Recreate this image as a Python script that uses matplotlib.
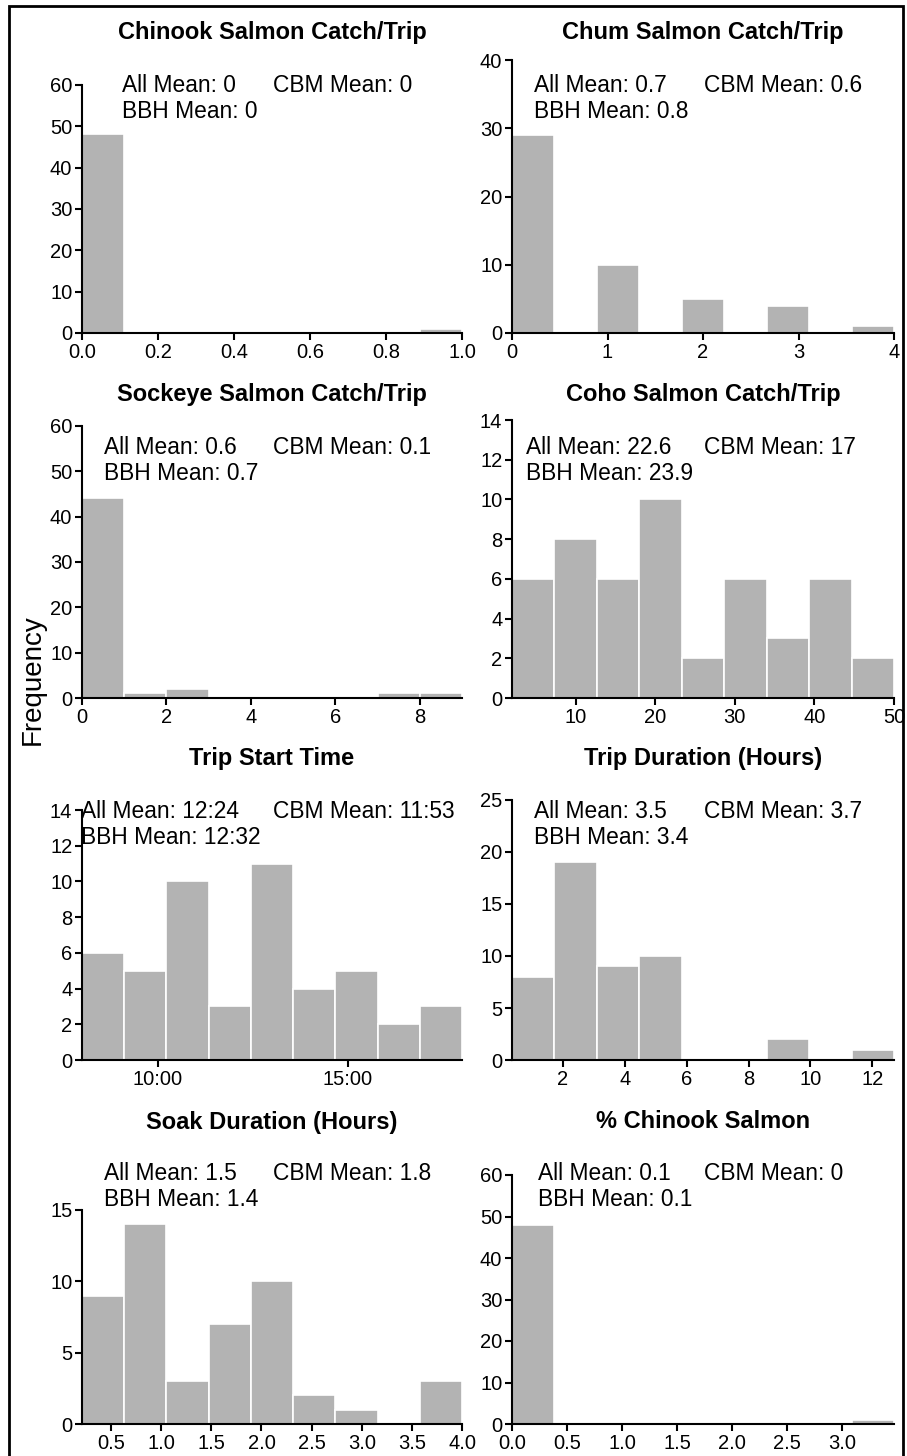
#!/usr/bin/env python3

import numpy as np
from matplotlib import pyplot as plt
from matplotlib.patches import Rectangle
from matplotlib.ticker import FixedLocator, FuncFormatter

plt.rcParams['font.family'] = ['Liberation Sans', 'DejaVu Sans']

W, H = 907, 1456

# panel titles
titles = ['Chinook Salmon Catch/Trip', 'Chum Salmon Catch/Trip',
          'Sockeye Salmon Catch/Trip', 'Coho Salmon Catch/Trip',
          'Trip Start Time', 'Trip Duration (Hours)',
          'Soak Duration (Hours)', '% Chinook Salmon']

# histogram counts (9 bins each) and the data range the bins cover
chinook_counts = [48, 0, 0, 0, 0, 0, 0, 0, 1]
chum_counts = [29, 0, 10, 0, 5, 0, 4, 0, 1]
sockeye_counts = [44, 1, 2, 0, 0, 0, 0, 1, 1]
coho_counts = [6, 8, 6, 10, 2, 6, 3, 6, 2]
start_counts = [6, 5, 10, 3, 11, 4, 5, 2, 3]
duration_counts = [8, 19, 9, 10, 0, 0, 2, 0, 1]
soak_counts = [9, 14, 3, 7, 10, 2, 1, 0, 3]
pct_chinook_counts = [48, 0, 0, 0, 0, 0, 0, 0, 1]

counts = [chinook_counts, chum_counts, sockeye_counts, coho_counts,
          start_counts, duration_counts, soak_counts, pct_chinook_counts]
ranges = [(0, 1), (0, 4), (0, 9), (2, 50),
          (8.0, 18.0), (0.35, 12.7), (0.21, 4.0), (0, 3.47)]

# mean annotations: (All, CBM, BBH)
all_means = ['0', '0.7', '0.6', '22.6', '12:24', '3.5', '1.5', '0.1']
cbm_means = ['0', '0.6', '0.1', '17', '11:53', '3.7', '1.8', '0']
bbh_means = ['0', '0.8', '0.7', '23.9', '12:32', '3.4', '1.4', '0.1']

# tick positions
xticks = [[0, 0.2, 0.4, 0.6, 0.8, 1.0], [0, 1, 2, 3, 4],
          [0, 2, 4, 6, 8], [10, 20, 30, 40, 50],
          [10, 15], [2, 4, 6, 8, 10, 12],
          [0.5, 1.0, 1.5, 2.0, 2.5, 3.0, 3.5, 4.0],
          [0.0, 0.5, 1.0, 1.5, 2.0, 2.5, 3.0]]
yticks = [list(range(0, 61, 10)), list(range(0, 41, 10)),
          list(range(0, 61, 10)), list(range(0, 15, 2)),
          list(range(0, 15, 2)), list(range(0, 26, 5)),
          list(range(0, 16, 5)), list(range(0, 61, 10))]
xfmt = ['{:.1f}', '{:.0f}', '{:.0f}', '{:.0f}', 'time', '{:.0f}', '{:.1f}', '{:.1f}']

# layout (pixels)
ylims = [66.0, 40.0, 61.3, 14.0, 14.56, 25.0, 17.45, 60.0]
col_x = [(82, 462), (512, 894)]
row_y = [(60, 333), (420, 698), (800, 1060), (1175, 1424)]
title_y = [32, 395, 759, 1122]
ann_y = [85, 447, 811, 1173]
all_x = [122, 534, 104, 526, 81, 534, 104, 538]
cbm_x = [273, 704, 273, 704, 273, 704, 273, 704]

fig = plt.figure(figsize=(W / 100, H / 100), dpi=100)

for i in range(8):
    r, c = divmod(i, 2)
    x0, x1 = col_x[c]
    y0, y1 = row_y[r]
    ax = fig.add_axes([x0 / W, 1 - y1 / H, (x1 - x0) / W, (y1 - y0) / H])

    lo, hi = ranges[i]
    edges = np.linspace(lo, hi, len(counts[i]) + 1)
    ax.bar(edges[:-1], counts[i], width=np.diff(edges), align='edge',
           color='#b3b3b3', edgecolor='white', linewidth=1.2)

    ax.set_xlim(lo, hi)
    ax.set_ylim(0, ylims[i])
    for s in ['top', 'right']:
        ax.spines[s].set_visible(False)
    ax.spines['left'].set_bounds(0, yticks[i][-1])
    ax.spines['left'].set_linewidth(1.5)
    ax.spines['bottom'].set_linewidth(1.5)
    ax.spines['left'].set_zorder(5)

    ax.xaxis.set_major_locator(FixedLocator(xticks[i]))
    ax.yaxis.set_major_locator(FixedLocator(yticks[i]))
    if xfmt[i] == 'time':
        ax.xaxis.set_major_formatter(FuncFormatter(lambda v, p: '{:.0f}:00'.format(v)))
    else:
        ax.xaxis.set_major_formatter(FuncFormatter(lambda v, p, f=xfmt[i]: f.format(v)))
    ax.tick_params(axis='both', direction='out', length=5, width=1.5,
                   labelsize=14.5, colors='black')
    ax.tick_params(axis='x', pad=2)
    ax.tick_params(axis='y', pad=2)

    cx = (x0 + x1) / 2
    fig.text(cx / W, 1 - title_y[r] / H, titles[i], ha='center', va='center',
             fontsize=17, fontweight='bold')
    fig.text(all_x[i] / W, 1 - ann_y[r] / H, 'All Mean: ' + all_means[i],
             ha='left', va='center', fontsize=16.4)
    fig.text(cbm_x[i] / W, 1 - ann_y[r] / H, 'CBM Mean: ' + cbm_means[i],
             ha='left', va='center', fontsize=16.4)
    fig.text(all_x[i] / W, 1 - (ann_y[r] + 27) / H, 'BBH Mean: ' + bbh_means[i],
             ha='left', va='center', fontsize=16.4)

fig.text(33 / W, 1 - 680 / H, 'Frequency', rotation=90, ha='center',
         va='center', fontsize=20)

# outer frame (bottom edge lies just outside the picture)
fig.patches.append(Rectangle((9 / W, 1 - 1462 / H), 894 / W, 1456 / H,
                             transform=fig.transFigure, fill=False,
                             edgecolor='black', linewidth=2))

fig.savefig('out.png', dpi=100)
